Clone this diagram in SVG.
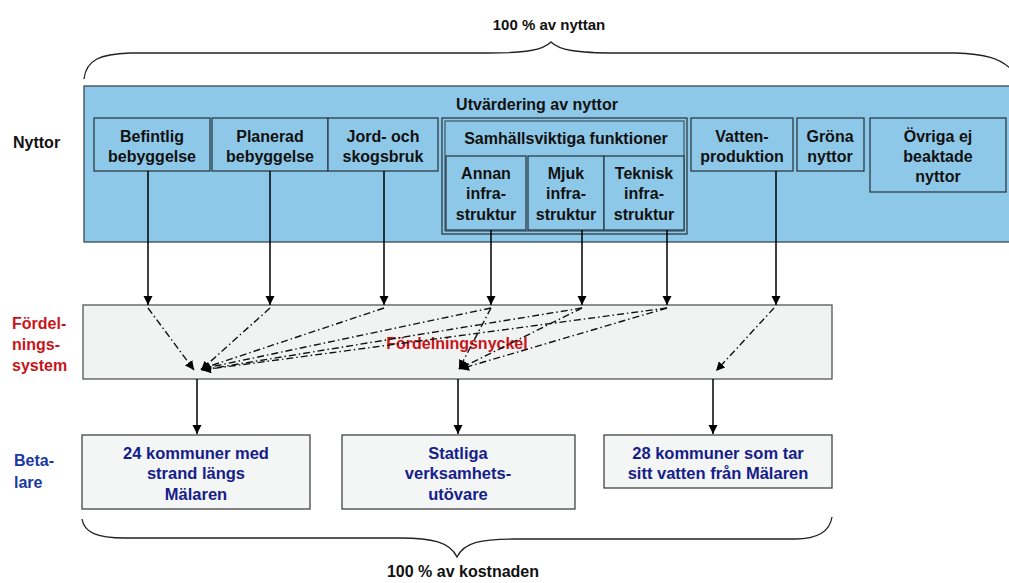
<svg xmlns="http://www.w3.org/2000/svg" width="1009" height="583" viewBox="0 0 1009 583">
<style>
text{font-family:"Liberation Sans",Arial,sans-serif;font-weight:bold;}
.bt{font-size:16px;fill:#111;text-anchor:middle;}
.pt{font-size:16.5px;fill:#14208a;text-anchor:middle;}
.box{fill:#8ec8e8;stroke:#2b3d48;stroke-width:1.3;}
.pay{fill:#f4f5f5;stroke:#444;stroke-width:1.3;}
.solid{stroke:#000;stroke-width:1.5;fill:none;marker-end:url(#ah);}
.dash{stroke:#111;stroke-width:1.4;fill:none;stroke-dasharray:7 3 1.5 3;marker-end:url(#ah2);}
.brace{stroke:#222;stroke-width:1.3;fill:none;}
</style>
<defs>
<marker id="ah" viewBox="0 0 10 10" refX="10" refY="5" markerUnits="userSpaceOnUse" markerWidth="9" markerHeight="10" orient="auto"><path d="M0,0 L10,5 L0,10 z" fill="#000"/></marker>
<marker id="ah2" viewBox="0 0 10 10" refX="10" refY="5" markerUnits="userSpaceOnUse" markerWidth="9" markerHeight="9" orient="auto"><path d="M0,0 L10,5 L0,10 z" fill="#000"/></marker>
</defs>
<rect width="1009" height="583" fill="#fff"/>

<g id="top-brace">
<path class="brace" d="M84,79 C86,60 100,54 130,53 L488,53 C526,53 543,50 551,42 C559,50 576,53 616,53 L955,53 C985,54 1000,58 1012,70"/>
<text x="549" y="30" style="font-size:15px" text-anchor="middle" fill="#111">100 % av nyttan</text>
</g>

<g id="labels">
<text x="13" y="148" style="font-size:16px" fill="#111">Nyttor</text>
<text x="12" y="329" style="font-size:16px" fill="#c81418">Fördel-</text>
<text x="12" y="350" style="font-size:16px" fill="#c81418">nings-</text>
<text x="12" y="371" style="font-size:16px" fill="#c81418">system</text>
<text x="14" y="466" style="font-size:16px" fill="#1a3aa0">Beta-</text>
<text x="14" y="488" style="font-size:16px" fill="#1a3aa0">lare</text>
</g>

<g id="panel">
<rect x="84" y="86" width="930" height="156" fill="#8ec8e8" stroke="#3a4a55" stroke-width="1.3"/>
<text class="bt" x="537" y="110">Utvärdering av nyttor</text>
</g>

<g id="befintlig">
<rect class="box" x="94" y="118" width="116" height="53"/>
<text class="bt" x="152" y="142">Befintlig</text>
<text class="bt" x="152" y="162">bebyggelse</text>
</g>
<g id="planerad">
<rect class="box" x="212" y="118" width="116" height="53"/>
<text class="bt" x="270" y="142">Planerad</text>
<text class="bt" x="270" y="162">bebyggelse</text>
</g>
<g id="jord">
<rect class="box" x="328" y="118" width="110" height="53"/>
<text class="bt" x="383" y="142">Jord- och</text>
<text class="bt" x="383" y="162">skogsbruk</text>
</g>
<g id="samhall">
<rect class="box" x="442" y="118" width="245" height="116"/>
<rect x="445" y="121" width="239" height="110" fill="none" stroke="#2b3d48" stroke-width="1"/>
<text class="bt" x="566" y="144">Samhällsviktiga funktioner</text>
</g>
<g id="annan">
<rect class="box" x="446" y="156" width="80" height="74"/>
<text class="bt" x="486" y="179">Annan</text>
<text class="bt" x="486" y="199">infra-</text>
<text class="bt" x="486" y="220">struktur</text>
</g>
<g id="mjuk">
<rect class="box" x="528" y="156" width="76" height="74"/>
<text class="bt" x="566" y="179">Mjuk</text>
<text class="bt" x="566" y="199">infra-</text>
<text class="bt" x="566" y="220">struktur</text>
</g>
<g id="teknisk">
<rect class="box" x="604" y="156" width="80" height="74"/>
<text class="bt" x="644" y="179">Teknisk</text>
<text class="bt" x="644" y="199">infra-</text>
<text class="bt" x="644" y="220">struktur</text>
</g>
<g id="vatten">
<rect class="box" x="691" y="118" width="102" height="53"/>
<text class="bt" x="742" y="142">Vatten-</text>
<text class="bt" x="742" y="162">produktion</text>
</g>
<g id="grona">
<rect class="box" x="797" y="118" width="67" height="53"/>
<text class="bt" x="830" y="142">Gröna</text>
<text class="bt" x="830" y="162">nyttor</text>
</g>
<g id="ovriga">
<rect class="box" x="870" y="118" width="136" height="74"/>
<text class="bt" x="938" y="142">Övriga ej</text>
<text class="bt" x="938" y="162">beaktade</text>
<text class="bt" x="938" y="182">nyttor</text>
</g>

<g id="fordelning">
<rect x="83" y="305" width="749" height="74" fill="#f1f3f3" stroke="#555" stroke-width="1.3"/>
<text x="457" y="349" style="font-size:16px" text-anchor="middle" fill="#c81418">Fördelningsnyckel</text>
</g>

<g id="kommuner24">
<rect class="pay" x="82" y="435" width="228" height="74"/>
<text class="pt" x="196" y="459">24 kommuner med</text>
<text class="pt" x="196" y="479">strand längs</text>
<text class="pt" x="196" y="500">Mälaren</text>
</g>
<g id="statliga">
<rect class="pay" x="342" y="435" width="233" height="74"/>
<text class="pt" x="458" y="459">Statliga</text>
<text class="pt" x="458" y="479">verksamhets-</text>
<text class="pt" x="458" y="500">utövare</text>
</g>
<g id="kommuner28">
<rect class="pay" x="604" y="435" width="228" height="53"/>
<text class="pt" x="718" y="459">28 kommuner som tar</text>
<text class="pt" x="718" y="479">sitt vatten från Mälaren</text>
</g>

<g id="connectors">
<line class="solid" x1="148" y1="171" x2="148" y2="305"/>
<line class="solid" x1="270" y1="171" x2="270" y2="305"/>
<line class="solid" x1="384" y1="171" x2="384" y2="305"/>
<line class="solid" x1="491" y1="230" x2="491" y2="305"/>
<line class="solid" x1="582" y1="230" x2="582" y2="305"/>
<line class="solid" x1="667" y1="230" x2="667" y2="305"/>
<line class="solid" x1="776" y1="171" x2="776" y2="305"/>

<line class="dash" x1="148" y1="308" x2="194" y2="370"/>
<line class="dash" x1="270" y1="308" x2="201" y2="370"/>
<line class="dash" x1="384" y1="308" x2="201" y2="369"/>
<line class="dash" x1="491" y1="308" x2="201" y2="369"/>
<line class="dash" x1="582" y1="308" x2="202" y2="370"/>
<line class="dash" x1="667" y1="308" x2="202" y2="370"/>
<line class="dash" x1="491" y1="308" x2="459" y2="369"/>
<line class="dash" x1="582" y1="308" x2="459" y2="369"/>
<line class="dash" x1="667" y1="308" x2="460" y2="369"/>
<line class="dash" x1="774" y1="308" x2="716" y2="371"/>

<line class="solid" x1="197" y1="379" x2="197" y2="434"/>
<line class="solid" x1="458" y1="379" x2="458" y2="434"/>
<line class="solid" x1="713" y1="379" x2="713" y2="434"/>
</g>

<g id="bottom-brace">
<path class="brace" d="M82,519 C84,532 96,538 125,538 L400,538 C432,538 450,542 457,557 C464,542 482,539 515,539 L795,539 C820,539 830,530 832,517"/>
<text x="463" y="577" style="font-size:16px" text-anchor="middle" fill="#111">100 % av kostnaden</text>
</g>
</svg>
